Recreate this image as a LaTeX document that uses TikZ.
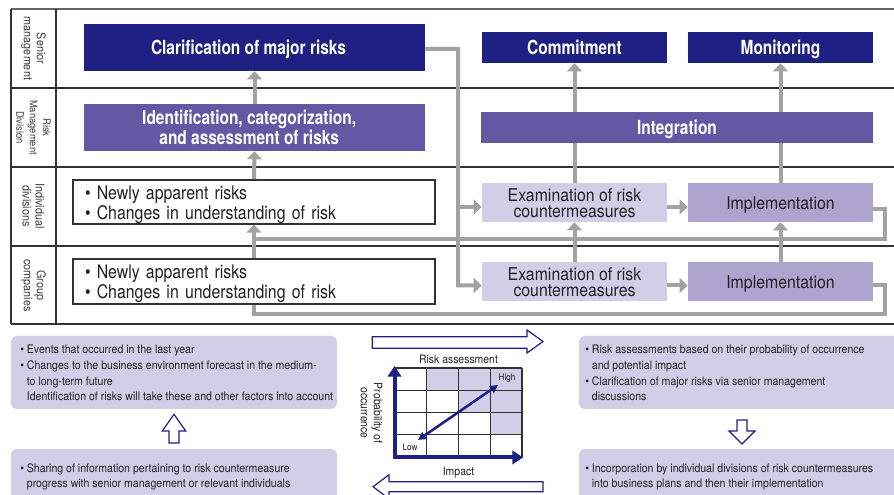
\documentclass[tikz,border=0pt]{standalone}
\usepackage{fontspec}
\setmainfont{TeX Gyre Heros}[FakeStretch=0.9]
\newfontfamily\hdfont{TeX Gyre Heros}[FakeStretch=0.8]
\newfontfamily\rkfont{TeX Gyre Heros}[FakeStretch=0.85]
\usetikzlibrary{arrows.meta}

\definecolor{navyC}{RGB}{30,32,132}
\definecolor{purpC}{RGB}{100,88,164}
\definecolor{lavC}{RGB}{210,206,231}
\definecolor{implC}{RGB}{173,165,207}
\definecolor{linkC}{RGB}{161,162,162}
\definecolor{inkC}{RGB}{35,31,32}
\definecolor{ruleC}{RGB}{50,50,50}
\definecolor{laneC}{RGB}{60,60,60}

\pgfdeclarelayer{table}
\pgfdeclarelayer{links}
\pgfsetlayers{table,links,main}

\begin{document}
\begin{tikzpicture}[x=0.75pt,y=-0.75pt,
  every node/.style={inner sep=0pt},
  headbox/.style={fill=navyC,text=white,align=center,
    font=\hdfont\bfseries\fontsize{14.5}{13.5}\selectfont},
  purplebox/.style={headbox,fill=purpC},
  oneline/.style={text height=10.3pt,text depth=0.5pt},
  riskbox/.style={draw=ruleC,line width=0.8pt,fill=white,text=inkC,align=left,
    inner xsep=9pt,text width=253.5pt,minimum height=33pt,
    font=\rkfont\fontsize{14}{15}\selectfont},
  exambox/.style={fill=lavC,text=inkC,align=center,minimum width=138.75pt,
    minimum height=29.25pt,font=\fontsize{13.2}{12}\selectfont},
  implbox/.style={exambox,fill=implC,text height=11.4pt,text depth=0.2pt},
  lane/.style={rotate=-90,align=center,text=laneC,font=\fontsize{9}{9.75}\selectfont},
  link/.style={draw=linkC,line width=3pt,line join=miter},
  linkto/.style={link,-{Triangle[width=11pt,length=6pt]}},
  note/.style={fill=lavC,rounded corners=4pt},
  notetext/.style={align=left,text=inkC,font=\fontsize{8.8}{11.75}\selectfont},
  hollow/.style={draw=navyC,line width=0.9pt,fill=white,line join=miter},
  axis/.style={draw=navyC,line width=3pt,-{Triangle[width=10pt,length=8pt]}},
  chartlabel/.style={text=inkC,font=\fontsize{8.7}{9.75}\selectfont},
]
\useasboundingbox (0,0) rectangle (894,495);

% ---------- swim-lane table ----------
\begin{pgfonlayer}{table}
  \draw[ruleC!75,line width=1.1pt] (11,9) -- (894,9);
  \draw[ruleC,line width=0.9pt] (11,88) -- (894,88);
  \draw[ruleC,line width=0.9pt] (11,167) -- (894,167);
  \draw[ruleC,line width=0.9pt] (11,246) -- (894,246);
  \draw[ruleC,line width=0.9pt] (11,324) -- (894,324);
  \draw[ruleC,line width=0.9pt] (11,9) -- (11,324);
  \draw[ruleC,line width=0.9pt] (56,9) -- (56,324);
\end{pgfonlayer}

\node[lane] (laneSM) at (33.5,48.5) {Senior\\management};
\node[lane,font=\fontsize{7.8}{10}\selectfont] (laneRM) at (33.5,127.5) {Risk\\Management\\Division};
\node[lane] (laneID) at (33.5,206) {Individual\\divisions};
\node[lane] (laneGC) at (33.5,285.5) {Group\\companies};

% ---------- process boxes ----------
\node[headbox,oneline,minimum width=255.75pt,minimum height=35.25pt] (clar) at (254.5,47.5) {Clarification of major risks\kern9pt};
\node[purplebox,minimum width=255.75pt,minimum height=35.25pt] (ident) at (254.5,127.5) {Identification, categorization,\kern8pt\\and assessment of risks\kern8pt};
\node[headbox,oneline,minimum width=138.75pt,minimum height=23.25pt] (commit) at (574.5,47.5) {Commitment};
\node[headbox,oneline,minimum width=138.75pt,minimum height=23.25pt] (monit) at (780.5,47.5) {Monitoring};
\node[purplebox,oneline,minimum width=294pt,minimum height=23.25pt] (integ) at (677,127.5) {Integration};

\node[riskbox] (indiv) at (254,202) {\rule{0pt}{14.5pt}\textbullet\ Newly apparent risks\\\textbullet\ Changes in understanding of risk};
\node[riskbox,minimum height=33.75pt] (group) at (254,281.5) {\rule{0pt}{13.5pt}\textbullet\ Newly apparent risks\\\textbullet\ Changes in understanding of risk};

\node[exambox] (exA) at (574.5,202.5) {\rule{0pt}{11pt}Examination of risk\\countermeasures};
\node[implbox] (imA) at (780.5,202.5) {Implementation};
\node[exambox] (exB) at (574.5,281.5) {\rule{0pt}{11pt}Examination of risk\\countermeasures};
\node[implbox] (imB) at (780.5,281.5) {Implementation};

% ---------- connectors ----------
\coordinate (busT) at (458,49);
\coordinate (rowA) at (458,207);
\coordinate (rowB) at (458,285.5);
\coordinate (retA) at (885,239);
\coordinate (retB) at (885,314.5);

\begin{pgfonlayer}{links}
  \draw[linkto] (ident.north) -- (clar.south);
  \draw[linkto] (indiv.north) -- (ident.south);
  \draw[linkto] ([yshift=-1pt]clar.east) -- (busT) -- (rowB) -- (rowB -| exB.west);
  \draw[linkto] (rowA) -- (rowA -| exA.west);
  \draw[linkto] (rowA -| exA.east) -- (rowA -| imA.west);
  \draw[linkto] (rowB -| exB.east) -- (rowB -| imB.west);
  \draw[linkto] (exB.north) -- (exA.south);
  \draw[linkto] (imB.north) -- (imA.south);
  \draw[linkto] (exA.north) -- (commit.south);
  \draw[linkto] (imA.north) -- (monit.south);
  \draw[link] ([yshift=-4.9pt]imA.east) -| (retA) -- (retA -| indiv.south);
  \draw[linkto] (group.north) -- (indiv.south);
  \draw[link] ([yshift=-3pt]imB.east) -| (retB) -- (retB -| group.south) -- (group.south);
\end{pgfonlayer}

% ---------- explanatory notes ----------
\node[note,minimum width=244.5pt,minimum height=54.75pt] (noteLT) at (174,372.5) {};
\node[note,minimum width=244.5pt,minimum height=42pt] (noteLB) at (174,477) {};
\node[note,minimum width=240.75pt,minimum height=54.75pt] (noteRT) at (739.5,372.5) {};
\node[note,minimum width=240.75pt,minimum height=42pt] (noteRB) at (739.5,477) {};

\node[notetext,anchor=west] (txtLT) at (20,373) {\textbullet\ Events that occurred in the last year\\
\textbullet\ Changes to the business environment forecast in the medium-\\
\hphantom{\textbullet\ }to long-term future\\
\hphantom{\textbullet\ }Identification of risks will take these and other factors into account};
\node[notetext,anchor=west] (txtLB) at (20,477) {\textbullet\ Sharing of information pertaining to risk countermeasure\\
\hphantom{\textbullet\ }progress with senior management or relevant individuals};
\node[notetext,anchor=west] (txtRT) at (585,373) {\textbullet\ Risk assessments based on their probability of occurrence\\
\hphantom{\textbullet\ }and potential impact\\
\textbullet\ Clarification of major risks via senior management\\
\hphantom{\textbullet\ }discussions};
\node[notetext,anchor=west] (txtRB) at (585,477) {\textbullet\ Incorporation by individual divisions of risk countermeasures\\
\hphantom{\textbullet\ }into business plans and then their implementation};

% hollow block arrows
\draw[hollow] (174,414.3) -- (185.7,431) -- (179,431) -- (179,443) -- (169,443) -- (169,431) -- (162.3,431) -- cycle;
\draw[hollow] (742,444) -- (755,431) -- (747,431) -- (747,420) -- (737,420) -- (737,431) -- (729,431) -- cycle;
\draw[hollow] (543,341.5) -- (527,330) -- (527,336.7) -- (372.3,336.7) -- (372.3,348.3) -- (527,348.3) -- (527,353) -- cycle;
\draw[hollow] (373,486.7) -- (389,474.7) -- (389,481.7) -- (543,481.7) -- (543,491.7) -- (389,491.7) -- (389,498.7) -- cycle;

% ---------- risk assessment matrix ----------
\fill[lavC] (426.75,368) rectangle (522,390.25);
\fill[lavC] (458.5,390.25) rectangle (522,412.5);
\fill[lavC] (490.25,412.5) rectangle (522,434.75);
\foreach \gx in {426.75,458.5,490.25,522}
  \draw[ruleC,line width=0.8pt] (\gx,368) -- (\gx,457);
\foreach \gy in {368,390.25,412.5,434.75}
  \draw[ruleC,line width=0.8pt] (395,\gy) -- (522,\gy);
\draw[axis] (394.5,459) -- (394.5,366);
\draw[axis] (393,457.5) -- (523,457.5);

\node[chartlabel,anchor=base] (ra) at (458.5,364) {Risk assessment};
\node[chartlabel,anchor=base] (imp) at (458.5,476) {Impact};
\node[chartlabel,rotate=-90,align=center] (prob) at (371.5,413) {Probability of\\occurrence};
\node[chartlabel,font=\fontsize{6.8}{8}\selectfont] (hi) at (507,378) {High};
\node[chartlabel,font=\fontsize{6.8}{8}\selectfont] (lo) at (410,447.5) {Low};
\coordinate (lowpt) at (418,440);
\coordinate (highpt) at (498,385);
\draw[navyC,line width=1.9pt,{Triangle[width=6pt,length=6pt]}-{Triangle[width=6pt,length=6pt]}] (lowpt) -- (highpt);
\end{tikzpicture}
\end{document}
